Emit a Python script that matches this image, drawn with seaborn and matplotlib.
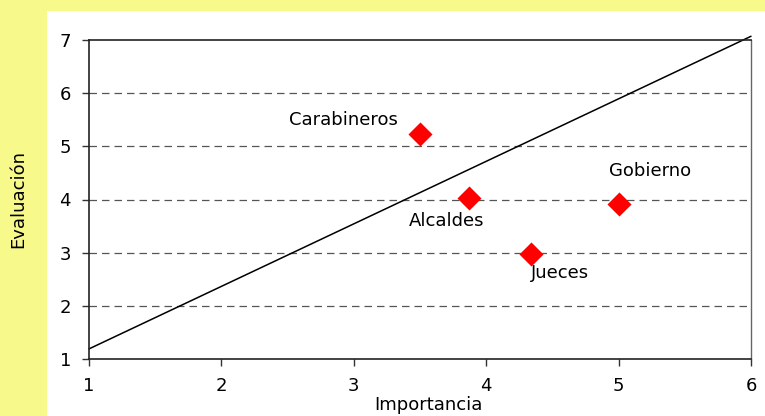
import numpy as np
import pandas as pd
import seaborn as sns
import matplotlib.pyplot as plt
from matplotlib.patches import Rectangle

# datos
actores = ["Carabineros", "Alcaldes", "Jueces", "Gobierno"]
importancia = [3.50, 3.87, 4.34, 5.00]
evaluacion = [5.23, 4.03, 2.97, 3.92]
linea_x = [1.0, 6.0]
linea_y = [1.19, 7.07]

df = pd.DataFrame({"Actor": actores, "Importancia": importancia, "Evaluación": evaluacion})

sns.set_style("white")
plt.rcParams['font.family'] = ['DejaVu Sans']
plt.rcParams['text.color'] = 'black'
plt.rcParams['axes.labelcolor'] = 'black'
plt.rcParams['xtick.color'] = 'black'
plt.rcParams['ytick.color'] = 'black'

amarillo = '#F7F98A'
fig = plt.figure(figsize=(7.65, 4.16), dpi=100, facecolor=amarillo)
fondo = Rectangle((47/765, 0), 1, (416-11)/416, transform=fig.transFigure,
                  facecolor='white', edgecolor='none', zorder=-10)
fig.patches.append(fondo)
ax = fig.add_axes([89/765, (416-359)/416, (751-89)/765, (359-40)/416])
ax.set_zorder(1)
ax.set_facecolor('white')

for y in [2, 3, 4, 5, 6]:
    ax.axhline(y, color='#555555', linestyle=(0, (6, 4)), linewidth=0.9, zorder=1)

ax.plot(linea_x, linea_y, color='black', linewidth=1.1, clip_on=False, zorder=2)
sns.scatterplot(data=df, x="Importancia", y="Evaluación", marker='D', color='red',
                s=150, edgecolor='red', linewidth=0, ax=ax, zorder=3, clip_on=False)

offsets = {"Carabineros": (-0.58, 0.27), "Alcaldes": (-0.17, -0.43),
           "Jueces": (0.22, -0.36), "Gobierno": (0.24, 0.62)}
for a, xv, yv in zip(actores, importancia, evaluacion):
    dx, dy = offsets[a]
    ax.text(xv + dx, yv + dy, a, ha='center', va='center', fontsize=13, color='black')

ax.set_xlim(1, 6)
ax.set_ylim(1, 7)
ax.set_xticks([1, 2, 3, 4, 5, 6])
ax.set_yticks([1, 2, 3, 4, 5, 6, 7])
ax.tick_params(axis='both', labelsize=13, length=5, width=1, color='#333333',
               labelcolor='black', direction='out', bottom=True, left=True, pad=8)
for s in ['left', 'bottom', 'top']:
    ax.spines[s].set_color('#222222')
    ax.spines[s].set_linewidth(1.2)
ax.spines['right'].set_color('#666666')
ax.spines['right'].set_linewidth(1)

ax.set_xlabel("Importancia", fontsize=13, labelpad=2)
ax.set_ylabel("Evaluación", fontsize=13, labelpad=0)
ax.yaxis.set_label_coords(-62/662, 0.5)
ax.xaxis.set_label_coords(0.513, -(405-359)/319)
ax.xaxis.label.set_va('center')

fig.savefig("out.png", dpi=100, facecolor=amarillo)
